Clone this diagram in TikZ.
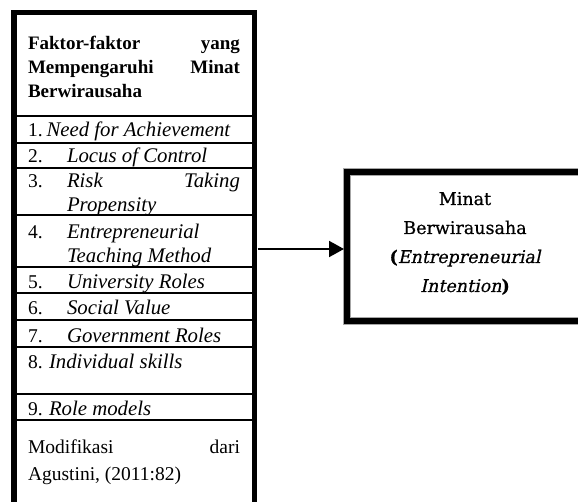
\documentclass[tikz,border=0pt]{standalone}
\usepackage{fontspec}
\setmainfont{Liberation Serif}[ItalicFont={Liberation Serif Italic}, BoldFont={Liberation Serif Bold}, BoldItalicFont={Liberation Serif Bold Italic}]
\newfontfamily\rbfont{DejaVu Serif}[FakeBold=0.6, ItalicFont={DejaVu Serif}, ItalicFeatures={FakeSlant=0.22, FakeBold=0.6}]
\usetikzlibrary{arrows.meta}
\begin{document}
\begin{tikzpicture}[x=1pt,y=-1pt,
  txt/.style={inner sep=0pt, outer sep=0pt, font=\fontsize{19.5}{24}\selectfont},
  lt/.style={txt, anchor=base west},
  rt/.style={txt, anchor=base east},
  it/.style={lt, font=\fontsize{20.8}{24}\selectfont\itshape},
  itr/.style={rt, font=\fontsize{20.8}{24}\selectfont\itshape},
  hb/.style={lt, font=\fontsize{19}{24}\selectfont\bfseries},
  hbr/.style={rt, font=\fontsize{19}{24}\selectfont\bfseries},
  rbt/.style={inner sep=0pt, outer sep=0pt, anchor=base, font=\rbfont\fontsize{17.5}{28}\selectfont},
  frame/.style={line width=5.5pt},
  sepline/.style={line width=1.5pt},
  rbox/.style={draw, line width=6pt, minimum width=250pt, minimum height=149.5pt, inner sep=0pt,
    preaction={draw=black!35, line width=8pt}},
  conn/.style={line width=2pt, -{Triangle[length=15pt,width=16pt]}}
]
\useasboundingbox (0,0) rectangle (578,502);
% left box
\draw[frame] (13.8,510) -- (13.8,12.5) -- (254.7,12.5) -- (254.7,510);
\foreach \yy in {116,143,168,215,267,293,320,347,394,420}
  \draw[sepline] (16.5,\yy) -- (252,\yy);
% header
\node[hb] (h1a) at (28,50) {Faktor-faktor};
\node[hbr] (h1b) at (240,50) {yang};
\node[hb] (h2a) at (28,74) {Mempengaruhi};
\node[hbr] (h2b) at (240,74) {Minat};
\node[hb] (h3) at (28,98) {Berwirausaha};
% rows
\node[lt] (n1) at (28,137) {1.};
\node[it] (t1) at (46.5,137) {Need for Achievement};
\node[lt] (n2) at (28,163) {2.};
\node[it] (t2) at (67,163) {Locus of Control};
\node[lt] (n3) at (28,188) {3.};
\node[it] (t3a) at (67,188) {Risk};
\node[itr] (t3b) at (240,188) {Taking};
\node[it] (t3c) at (67,212) {Propensity};
\node[lt] (n4) at (28,239) {4.};
\node[it] (t4a) at (67,239) {Entrepreneurial};
\node[it] (t4b) at (67,263) {Teaching Method};
\node[lt] (n5) at (28,289) {5.};
\node[it] (t5) at (67,289) {University Roles};
\node[lt] (n6) at (28,315) {6.};
\node[it] (t6) at (67,315) {Social Value};
\node[lt] (n7) at (28,342) {7.};
\node[it] (t7) at (67,342) {Government Roles};
\node[lt] (n8) at (28,368) {8.};
\node[it] (t8) at (49,368) {Individual skills};
\node[lt] (n9) at (28,415) {9.};
\node[it] (t9) at (49,415) {Role models};
\node[lt] (m1a) at (28,453) {Modifikasi};
\node[rt] (m1b) at (240,453) {dari};
\node[lt] (m2) at (28,480) {Agustini, (2011:82)};
% right box
\node[rbox] (rb) at (472,246.75) {};
\node[rbt] (rb1) at (465,205) {Minat};
\node[rbt] (rb2) at (465,234) {Berwirausaha};
\node[rbt] (rb3) at (465,263) {\textbf{(}\textit{Entrepreneurial}};
\node[rbt] (rb4) at (465,292) {\textit{Intention}\textbf{)}};
% connector
\coordinate (lbE) at (257.5,249);
\draw[conn] (lbE) -- (rb.west |- lbE);
\end{tikzpicture}
\end{document}
